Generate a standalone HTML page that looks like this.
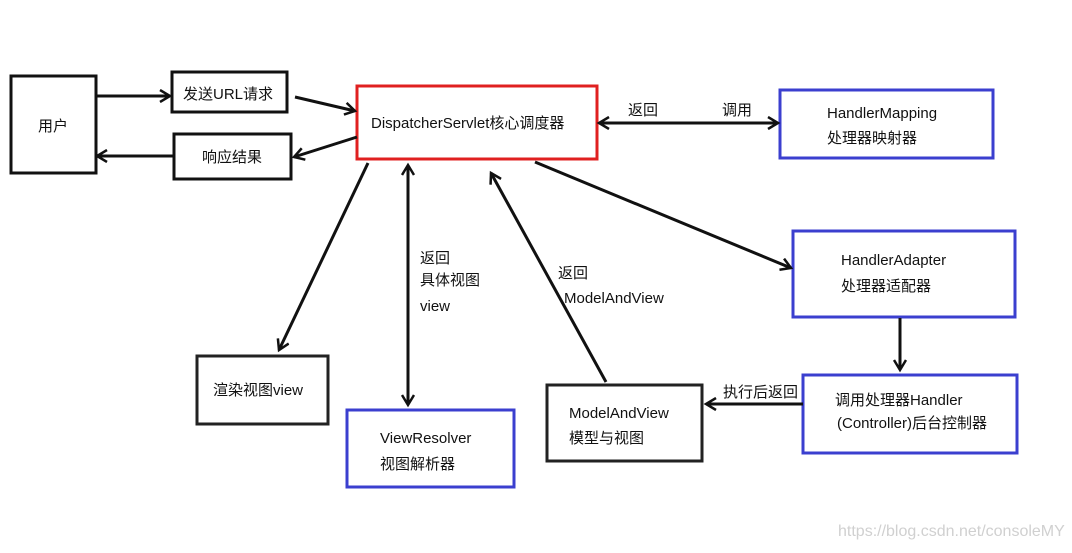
<!DOCTYPE html>
<html><head><meta charset="utf-8"><style>
body{margin:0;background:#fff}
svg text{font-family:"Liberation Sans","Noto Sans CJK SC",sans-serif;font-size:15px;fill:#111}
</style></head><body>
<svg width="1072" height="548" viewBox="0 0 1072 548" xmlns="http://www.w3.org/2000/svg">
<defs>
<marker id="a" markerWidth="14" markerHeight="14" refX="11" refY="7" orient="auto-start-reverse" markerUnits="userSpaceOnUse">
<path d="M1,1 L11,7 L1,13" fill="none" stroke="#111" stroke-width="2.5"/>
</marker>
</defs>
<g fill="none" stroke-width="3">
<rect x="11" y="76" width="85" height="97" stroke="#111"/>
<rect x="172" y="72" width="115" height="40" stroke="#111"/>
<rect x="174" y="134" width="117" height="45" stroke="#111"/>
<rect x="357" y="86" width="240" height="73" stroke="#e02020"/>
<rect x="780" y="90" width="213" height="68" stroke="#3b3fcf"/>
<rect x="793" y="231" width="222" height="86" stroke="#3b3fcf"/>
<rect x="803" y="375" width="214" height="78" stroke="#3b3fcf"/>
<rect x="547" y="385" width="155" height="76" stroke="#222"/>
<rect x="347" y="410" width="167" height="77" stroke="#3b3fcf"/>
<rect x="197" y="356" width="131" height="68" stroke="#222"/>
</g>
<g stroke="#111" stroke-width="3" fill="none">
<line x1="96" y1="96" x2="170" y2="96" marker-end="url(#a)"/>
<line x1="295" y1="97" x2="355" y2="111" marker-end="url(#a)"/>
<line x1="357" y1="137" x2="294" y2="157" marker-end="url(#a)"/>
<line x1="174" y1="156" x2="97" y2="156" marker-end="url(#a)"/>
<line x1="599" y1="123" x2="778" y2="123" marker-start="url(#a)" marker-end="url(#a)"/>
<line x1="535" y1="162" x2="791" y2="268" marker-end="url(#a)"/>
<line x1="900" y1="318" x2="900" y2="370" marker-end="url(#a)"/>
<line x1="803" y1="404" x2="706" y2="404" marker-end="url(#a)"/>
<line x1="606" y1="382" x2="491" y2="173" marker-end="url(#a)"/>
<line x1="408" y1="165" x2="408" y2="405" marker-start="url(#a)" marker-end="url(#a)"/>
<line x1="368" y1="163" x2="279" y2="350" marker-end="url(#a)"/>
</g>
<text x="38" y="131">用户</text>
<text x="183" y="99">发送URL请求</text>
<text x="202" y="162">响应结果</text>
<text x="371" y="128">DispatcherServlet核心调度器</text>
<text x="827" y="118" font-size="16">HandlerMapping</text>
<text x="827" y="143">处理器映射器</text>
<text x="841" y="265" font-size="16">HandlerAdapter</text>
<text x="841" y="291">处理器适配器</text>
<text x="835" y="405" font-size="16">调用处理器Handler</text>
<text x="837" y="428" font-size="16">(Controller)后台控制器</text>
<text x="569" y="418" font-size="16">ModelAndView</text>
<text x="569" y="443">模型与视图</text>
<text x="380" y="443" font-size="16">ViewResolver</text>
<text x="380" y="469">视图解析器</text>
<text x="213" y="395">渲染视图view</text>
<text x="628" y="115">返回</text>
<text x="722" y="115">调用</text>
<text x="420" y="263">返回</text>
<text x="420" y="285">具体视图</text>
<text x="420" y="311" font-size="16">view</text>
<text x="558" y="278">返回</text>
<text x="564" y="303" font-size="16">ModelAndView</text>
<text x="723" y="397">执行后返回</text>
<text x="838" y="536" style="fill:#d0d0d0;font-size:16px">https://blog.csdn.net/consoleMY</text>
</svg>
</body></html>
